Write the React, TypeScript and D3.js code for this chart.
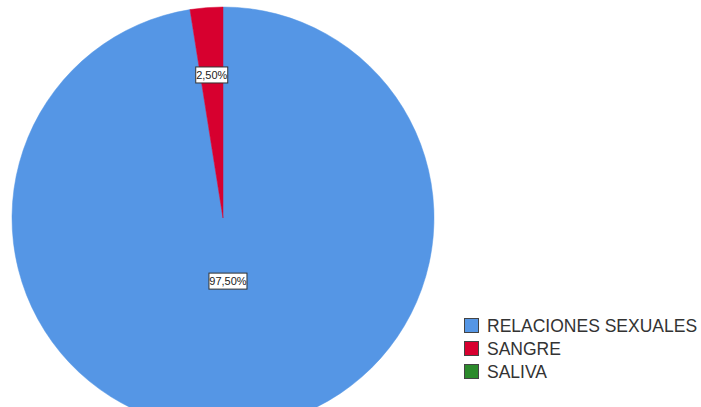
import React from 'react';
import * as d3 from 'd3';

// chart data
const categories = ['RELACIONES SEXUALES', 'SANGRE', 'SALIVA'];
const values = [97.5, 2.5, 0];
const labels = ['97,50%', '2,50%', ''];
const colors = ['#5596e5', '#d7002f', '#2b8a2b'];
// radial position of each label, fraction of radius
const labelRadius = [0.3, 0.68, 0];

const W = 701;
const H = 407;
const cx = 223;
const cy = 218;
const R = 211;

export default function App() {
  const pie = d3.pie<number>().sort(null).value(d => d);
  const arcs = pie(values);
  const arc = d3.arc<d3.PieArcDatum<number>>().innerRadius(0).outerRadius(R);

  return (
    <svg width={W} height={H} style={{ position: 'absolute', left: 0, top: 0, background: '#fff' }}>
      <g transform={`translate(${cx},${cy})`}>
        {arcs.map((a, i) =>
          a.value > 0 ? (
            <path key={i} d={arc(a) || ''} fill={colors[i]} stroke={colors[i]} strokeWidth={0.5} />
          ) : null
        )}
        {arcs.map((a, i) => {
          if (!labels[i]) return null;
          const mid = (a.startAngle + a.endAngle) / 2;
          const r = R * labelRadius[i];
          const x = Math.sin(mid) * r;
          const y = -Math.cos(mid) * r;
          const w = labels[i].length * 6 + 2;
          return (
            <g key={'l' + i} transform={`translate(${x},${y})`}>
              <rect x={-w / 2} y={-8} width={w} height={16} fill="#fff" stroke="#333" strokeWidth={1} />
              <text textAnchor="middle" dy="0.36em" fontFamily="Arial, 'Liberation Sans', sans-serif" fontSize={11} fill="#222">
                {labels[i]}
              </text>
            </g>
          );
        })}
      </g>
      <g transform="translate(464,318)">
        {categories.map((c, i) => (
          <g key={c} transform={`translate(0,${i * 23})`}>
            <rect x={0.5} y={0.5} width={14} height={14} fill={colors[i]} stroke="#444" strokeWidth={1} />
            <text x={23} y={8} dy="0.36em" fontFamily="Arial, 'Liberation Sans', sans-serif" fontSize={17.5} fill="#333">
              {c}
            </text>
          </g>
        ))}
      </g>
    </svg>
  );
}
